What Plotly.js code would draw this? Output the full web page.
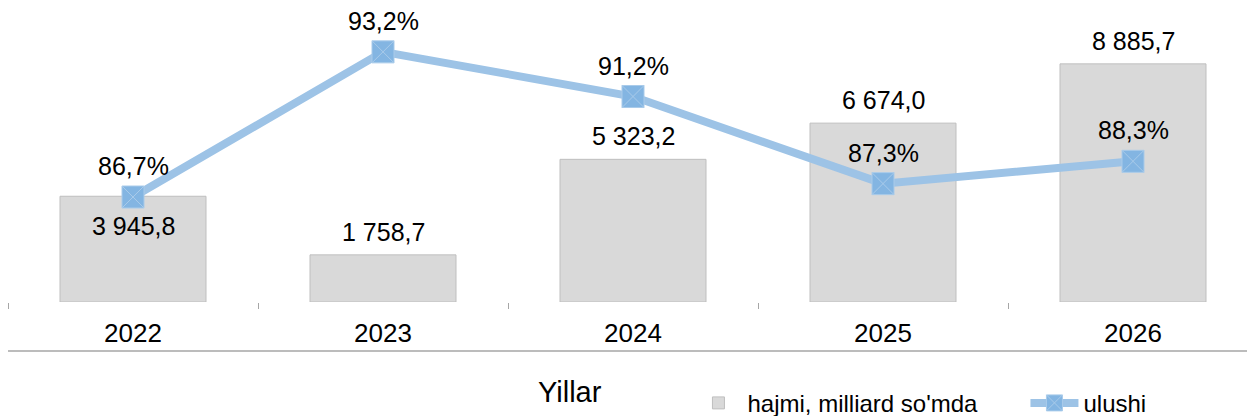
<!DOCTYPE html>
<html>
<head>
<meta charset="utf-8">
<script src="https://cdn.plot.ly/plotly-3.0.1.min.js"></script>
<style>html,body{margin:0;padding:0;background:#fff;}#chart{width:1247px;height:416px;}</style>
</head>
<body>
<div id="chart"></div>
<script>
var years = ['2022', '2023', '2024', '2025', '2026'];
var hajmi = [3945.8, 1758.7, 5323.2, 6674.0, 8885.7];
var ulushi = [86.7, 93.2, 91.2, 87.3, 88.3];
var barName = "hajmi, milliard so'mda";
var lineName = 'ulushi';
var axisTitle = 'Yillar';

function fmtNum(v) {
  var s = v.toFixed(1).split('.');
  var intPart = s[0].replace(/\B(?=(\d{3})+(?!\d))/g, ' ');
  return intPart + ',' + s[1];
}
function fmtPct(v) { return v.toFixed(1).replace('.', ',') + '%'; }

var FONT = 'Liberation Sans, Arial, sans-serif';

var traces = [
  {
    type: 'bar', x: years, y: hajmi, name: barName,
    width: 0.584,
    marker: {color: '#d9d9d9', line: {color: '#bfbfbf', width: 1}},
    hoverinfo: 'skip'
  },
  {
    type: 'scatter', mode: 'lines+markers', x: years, y: ulushi, name: lineName,
    yaxis: 'y2',
    line: {color: '#9dc3e6', width: 8},
    marker: {symbol: 'square-x', size: 22, color: '#83b5e2', line: {color: '#a9cbea', width: 1}},
    cliponaxis: false,
    hoverinfo: 'skip'
  }
];

var annotations = [];
years.forEach(function (yr, i) {
  // category axis: annotation x given as category index
  annotations.push({
    x: i, y: hajmi[i], xref: 'x', yref: 'y', text: fmtNum(hajmi[i]),
    showarrow: false, yanchor: 'middle', yshift: i === 0 ? -30 : 23,
    font: {family: FONT, size: 25, color: '#000'}
  });
  annotations.push({
    x: i, y: ulushi[i], xref: 'x', yref: 'y2', text: fmtPct(ulushi[i]),
    showarrow: false, yanchor: 'middle', yshift: 31,
    font: {family: FONT, size: 25, color: '#000'}
  });
});
annotations.push({
  x: 0.4536, y: -0.335, xref: 'paper', yref: 'paper', text: axisTitle,
  showarrow: false, xanchor: 'center', yanchor: 'middle',
  font: {family: FONT, size: 29, color: '#000'}
});

var hiddenAxis = {showgrid: false, zeroline: false, showline: false, showticklabels: false, ticks: ''};

var layout = {
  width: 1247, height: 416,
  margin: {l: 8, r: 0, t: 34, b: 114, autoexpand: false},
  paper_bgcolor: '#fff', plot_bgcolor: '#fff',
  showlegend: true,
  bargap: 0,
  xaxis: {
    type: 'category', range: [-0.5, 4.456],
    showgrid: false, zeroline: false, showline: false,
    ticks: 'outside', tickson: 'boundaries', ticklen: 6, tickcolor: '#a6a6a6', tickwidth: 1,
    ticklabelstandoff: 13,
    tickfont: {family: FONT, size: 26, color: '#000'}
  },
  yaxis: Object.assign({range: [0, 10000]}, hiddenAxis),
  yaxis2: Object.assign({range: [82, 94], overlaying: 'y', side: 'right'}, hiddenAxis),
  legend: {
    orientation: 'h', x: 0.55, xanchor: 'left', y: -0.378, yanchor: 'middle',
    font: {family: FONT, size: 24, color: '#000'},
    itemwidth: 48, entrywidth: 273, entrywidthmode: 'pixels', bgcolor: 'rgba(0,0,0,0)'
  },
  shapes: [{
    type: 'line', xref: 'paper', yref: 'paper', x0: 0, x1: 1, y0: -0.183, y1: -0.183,
    line: {color: '#a6a6a6', width: 1.5}
  }],
  annotations: annotations
};

Plotly.newPlot('chart', traces, layout, {staticPlot: true, displayModeBar: false});
</script>
</body>
</html>
